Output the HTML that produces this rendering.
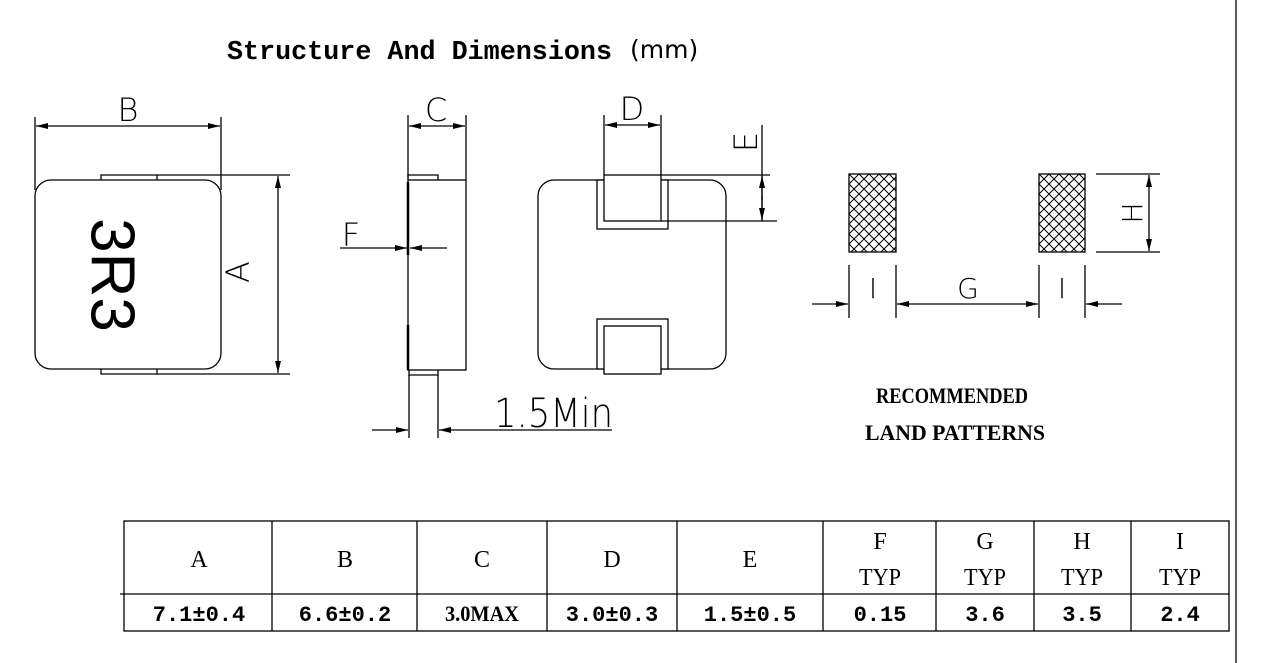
<!DOCTYPE html>
<html><head><meta charset="utf-8"><style>
html,body{margin:0;padding:0;background:#fff;width:1269px;height:663px;overflow:hidden}
svg{display:block}
.cad{font-family:"DejaVu Sans","Liberation Sans",sans-serif;font-weight:200}
.ser{font-family:"Liberation Serif",serif}
</style></head><body>
<svg width="1269" height="663" viewBox="0 0 1269 663" xmlns="http://www.w3.org/2000/svg">
<defs>
<pattern id="hatch" width="10" height="10" patternUnits="userSpaceOnUse" x="849" y="174">
<path d="M0,0 L10,10 M10,0 L0,10" stroke="#000" stroke-width="1"/>
</pattern>
<marker id="ar" viewBox="0 0 12 6" refX="12" refY="3" markerWidth="12" markerHeight="6" orient="auto-start-reverse" markerUnits="userSpaceOnUse">
<path d="M0,0 L12,3 L0,6 Z" fill="#000"/>
</marker>
</defs>
<g stroke="#000" fill="none" stroke-width="1.3">
<line x1="1236" y1="0" x2="1236" y2="663"/>
<!-- top view -->
<rect x="35" y="180" width="186" height="189" rx="16"/>
<path d="M101,180 V175 H157 V180 M157,175 H290"/>
<path d="M101,369 V374 H157 V369 M157,374 H290"/>
<line x1="35" y1="117" x2="35" y2="190"/>
<line x1="221" y1="117" x2="221" y2="190"/>
<line x1="36" y1="126" x2="220" y2="126" marker-start="url(#ar)" marker-end="url(#ar)"/>
<line x1="278" y1="176" x2="278" y2="373" marker-start="url(#ar)" marker-end="url(#ar)"/>
<!-- side view -->
<rect x="408" y="180" width="58" height="190"/>
<path d="M408,180 V175 H438 V180"/>
<path d="M409,370 V375 H438 V370"/>
<line x1="408" y1="182" x2="408" y2="255" stroke-width="2.5"/>
<line x1="408" y1="325" x2="408" y2="370" stroke-width="2.5"/>
<line x1="408" y1="115" x2="408" y2="178"/>
<line x1="466" y1="115" x2="466" y2="180"/>
<line x1="409" y1="126" x2="465" y2="126" marker-start="url(#ar)" marker-end="url(#ar)"/>
<line x1="340" y1="248" x2="407" y2="248" marker-end="url(#ar)"/>
<line x1="447" y1="248" x2="410" y2="248" marker-end="url(#ar)"/>
<line x1="409" y1="375" x2="409" y2="438"/>
<line x1="438" y1="375" x2="438" y2="438"/>
<line x1="372" y1="430" x2="408" y2="430" marker-end="url(#ar)"/>
<line x1="612" y1="430" x2="439" y2="430" marker-end="url(#ar)"/>
<!-- front view -->
<rect x="538" y="180" width="188" height="189" rx="16"/>
<rect x="597" y="180" width="71" height="49" fill="#fff"/>
<rect x="604" y="175" width="57" height="46" fill="#fff"/>
<rect x="597" y="319" width="71" height="50" fill="#fff"/>
<rect x="604" y="326" width="57" height="48" fill="#fff"/>
<line x1="604" y1="115" x2="604" y2="175"/>
<line x1="661" y1="115" x2="661" y2="175"/>
<line x1="605" y1="125" x2="660" y2="125" marker-start="url(#ar)" marker-end="url(#ar)"/>
<line x1="661" y1="175" x2="770" y2="175"/>
<line x1="661" y1="221" x2="777" y2="221"/>
<line x1="762" y1="125" x2="762" y2="221"/>
<line x1="762" y1="200" x2="762" y2="176" marker-end="url(#ar)"/>
<line x1="762" y1="196" x2="762" y2="220" marker-end="url(#ar)"/>
<!-- land pattern -->
<rect x="849" y="174" width="47" height="78" fill="url(#hatch)"/>
<rect x="1039" y="174" width="46" height="78" fill="url(#hatch)"/>
<line x1="1096" y1="174" x2="1160" y2="174"/>
<line x1="1096" y1="252" x2="1160" y2="252"/>
<line x1="1149" y1="175" x2="1149" y2="251" marker-start="url(#ar)" marker-end="url(#ar)"/>
<line x1="849" y1="265" x2="849" y2="318"/>
<line x1="896" y1="265" x2="896" y2="318"/>
<line x1="1039" y1="265" x2="1039" y2="318"/>
<line x1="1085" y1="265" x2="1085" y2="318"/>
<line x1="812" y1="304" x2="848" y2="304" marker-end="url(#ar)"/>
<line x1="897" y1="304" x2="1038" y2="304" marker-end="url(#ar)" marker-start="url(#ar)"/>
<line x1="1122" y1="304" x2="1086" y2="304" marker-end="url(#ar)"/>
<!-- table -->
<rect x="124" y="521" width="1105" height="110"/>
<line x1="120" y1="594" x2="1229" y2="594"/>
<line x1="272" y1="521" x2="272" y2="631"/>
<line x1="417" y1="521" x2="417" y2="631"/>
<line x1="547" y1="521" x2="547" y2="631"/>
<line x1="677" y1="521" x2="677" y2="631"/>
<line x1="823" y1="521" x2="823" y2="631"/>
<line x1="936" y1="521" x2="936" y2="631"/>
<line x1="1034" y1="521" x2="1034" y2="631"/>
<line x1="1131" y1="521" x2="1131" y2="631"/>
</g>
<text x="227" y="59" font-family="Liberation Mono,monospace" font-weight="bold" font-size="26.5" textLength="385" lengthAdjust="spacingAndGlyphs">Structure And Dimensions</text>
<text x="630" y="58" font-family="DejaVu Sans,sans-serif" font-size="25">(mm)</text>
<g class="cad" fill="#000">
<text x="128" y="121" font-size="32" text-anchor="middle">B</text>
<text x="436" y="121" font-size="32" text-anchor="middle">C</text>
<text x="632" y="120" font-size="32" text-anchor="middle">D</text>
<text x="351" y="246" font-size="32" text-anchor="middle">F</text>
<text transform="translate(249,272) rotate(-90)" font-size="32" text-anchor="middle">A</text>
<text transform="translate(757,142) rotate(-90)" font-size="32" text-anchor="middle">E</text>
<text transform="translate(1142,213) rotate(-90)" font-size="28" text-anchor="middle">H</text>
<text x="873" y="298" font-size="28" text-anchor="middle">I</text>
<text x="968" y="298" font-size="28" text-anchor="middle">G</text>
<text x="1062" y="298" font-size="28" text-anchor="middle">I</text>
<text x="494" y="427" font-size="40" textLength="119" lengthAdjust="spacingAndGlyphs">1.5Min</text>
</g>
<text transform="translate(108,275) rotate(90)" font-family="Liberation Sans,sans-serif" font-size="62" text-anchor="middle" dominant-baseline="middle">3R3</text>
<g class="ser" fill="#000" font-size="24" text-anchor="middle">
<text x="952" y="403" font-weight="bold" font-size="22" textLength="152" lengthAdjust="spacingAndGlyphs">RECOMMENDED</text>
<text x="955" y="440" font-weight="bold" font-size="22" textLength="180" lengthAdjust="spacingAndGlyphs">LAND PATTERNS</text>
<text x="199" y="567">A</text>
<text x="345" y="567">B</text>
<text x="482" y="567">C</text>
<text x="612" y="567">D</text>
<text x="750" y="567">E</text>
<text x="880" y="549">F</text>
<text x="880" y="585" textLength="42" lengthAdjust="spacingAndGlyphs">TYP</text>
<text x="985" y="549">G</text>
<text x="985" y="585" textLength="42" lengthAdjust="spacingAndGlyphs">TYP</text>
<text x="1082" y="549">H</text>
<text x="1082" y="585" textLength="42" lengthAdjust="spacingAndGlyphs">TYP</text>
<text x="1180" y="549">I</text>
<text x="1180" y="585" textLength="42" lengthAdjust="spacingAndGlyphs">TYP</text>
</g>
<g font-family="Liberation Mono,monospace" font-weight="bold" font-size="22" text-anchor="middle" fill="#000">
<text x="199" y="621">7.1±0.4</text>
<text x="345" y="621">6.6±0.2</text>
<text x="482" y="621" font-family="Liberation Serif,serif" textLength="74" lengthAdjust="spacingAndGlyphs">3.0MAX</text>
<text x="612" y="621">3.0±0.3</text>
<text x="750" y="621">1.5±0.5</text>
<text x="880" y="621">0.15</text>
<text x="985" y="621">3.6</text>
<text x="1082" y="621">3.5</text>
<text x="1180" y="621">2.4</text>
</g>
</svg>
</body></html>
